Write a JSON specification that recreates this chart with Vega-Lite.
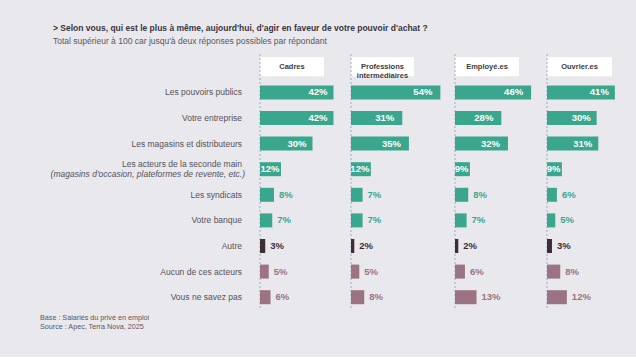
{
  "$schema": "https://vega.github.io/schema/vega-lite/v6.json",
  "background": "#e9e8ed",
  "padding": {"left": 0, "top": 23, "right": 0, "bottom": 27},
  "config": {"view": {"stroke": null}, "font": "Liberation Sans", "axis": {"disable": true}, "legend": {"disable": true}, "concat": {"spacing": 0}},
  "title": {
    "text": "> Selon vous, qui est le plus à même, aujourd'hui, d'agir en faveur de votre pouvoir d'achat ?",
    "subtitle": "Total supérieur à 100 car jusqu'à deux réponses possibles  par répondant",
    "anchor": "start",
    "dx": 53,
    "font": "Liberation Sans",
    "fontSize": 8.5,
    "fontWeight": "bold",
    "color": "#3a3540",
    "subtitleFont": "Liberation Sans",
    "subtitleFontSize": 8.5,
    "subtitleColor": "#5a5660",
    "subtitlePadding": 5,
    "offset": 8
  },
  "datasets": {
    "d": [
      {"grp": "Cadres", "cat": "Les pouvoirs publics", "v": 0.42},
      {"grp": "Cadres", "cat": "Votre entreprise", "v": 0.42},
      {"grp": "Cadres", "cat": "Les magasins et distributeurs", "v": 0.30},
      {"grp": "Cadres", "cat": "Les acteurs de la seconde main", "v": 0.12},
      {"grp": "Cadres", "cat": "Les syndicats", "v": 0.08},
      {"grp": "Cadres", "cat": "Votre banque", "v": 0.07},
      {"grp": "Cadres", "cat": "Autre", "v": 0.03},
      {"grp": "Cadres", "cat": "Aucun de ces acteurs", "v": 0.05},
      {"grp": "Cadres", "cat": "Vous ne savez pas", "v": 0.06},
      {"grp": "Prof", "cat": "Les pouvoirs publics", "v": 0.54},
      {"grp": "Prof", "cat": "Votre entreprise", "v": 0.31},
      {"grp": "Prof", "cat": "Les magasins et distributeurs", "v": 0.35},
      {"grp": "Prof", "cat": "Les acteurs de la seconde main", "v": 0.12},
      {"grp": "Prof", "cat": "Les syndicats", "v": 0.07},
      {"grp": "Prof", "cat": "Votre banque", "v": 0.07},
      {"grp": "Prof", "cat": "Autre", "v": 0.02},
      {"grp": "Prof", "cat": "Aucun de ces acteurs", "v": 0.05},
      {"grp": "Prof", "cat": "Vous ne savez pas", "v": 0.08},
      {"grp": "Employe", "cat": "Les pouvoirs publics", "v": 0.46},
      {"grp": "Employe", "cat": "Votre entreprise", "v": 0.28},
      {"grp": "Employe", "cat": "Les magasins et distributeurs", "v": 0.32},
      {"grp": "Employe", "cat": "Les acteurs de la seconde main", "v": 0.09},
      {"grp": "Employe", "cat": "Les syndicats", "v": 0.08},
      {"grp": "Employe", "cat": "Votre banque", "v": 0.07},
      {"grp": "Employe", "cat": "Autre", "v": 0.02},
      {"grp": "Employe", "cat": "Aucun de ces acteurs", "v": 0.06},
      {"grp": "Employe", "cat": "Vous ne savez pas", "v": 0.13},
      {"grp": "Ouvrier", "cat": "Les pouvoirs publics", "v": 0.41},
      {"grp": "Ouvrier", "cat": "Votre entreprise", "v": 0.30},
      {"grp": "Ouvrier", "cat": "Les magasins et distributeurs", "v": 0.31},
      {"grp": "Ouvrier", "cat": "Les acteurs de la seconde main", "v": 0.09},
      {"grp": "Ouvrier", "cat": "Les syndicats", "v": 0.06},
      {"grp": "Ouvrier", "cat": "Votre banque", "v": 0.05},
      {"grp": "Ouvrier", "cat": "Autre", "v": 0.03},
      {"grp": "Ouvrier", "cat": "Aucun de ces acteurs", "v": 0.08},
      {"grp": "Ouvrier", "cat": "Vous ne savez pas", "v": 0.12}
    ],
    "h": [
      {"grp": "Cadres", "cat": "header", "head": ["Cadres"]},
      {"grp": "Prof", "cat": "header", "head": ["Professions", "intermédiaires"]},
      {"grp": "Employe", "cat": "header", "head": ["Employé.es"]},
      {"grp": "Ouvrier", "cat": "header", "head": ["Ouvrier.es"]}
    ],
    "sub": [
      {"cat": "Les acteurs de la seconde main", "s": "(magasins d'occasion, plateformes de revente, etc.)"}
    ]
  },
  "spacing": 0,
  "resolve": {"scale": {"x": "independent", "y": "independent", "color": "independent"}},
  "hconcat": [
    {
      "width": 249.5,
      "height": 256,
      "title": {
        "text": ["Base : Salariés du privé en emploi", "Source : Apec, Terra Nova, 2025"],
        "orient": "bottom",
        "anchor": "start",
        "dx": 40,
        "offset": 4,
        "font": "Liberation Sans",
        "fontSize": 7.2,
        "fontWeight": "normal",
        "color": "#5a5660",
        "lineHeight": 8.5
      },
      "layer": [
        {
          "data": {"name": "d"},
          "transform": [{"filter": "datum.grp === 'Cadres' && datum.cat !== 'Les acteurs de la seconde main'"}],
          "mark": {"type": "text", "align": "right", "baseline": "middle", "dx": -7.5, "fontSize": 8.5, "color": "#55525a"},
          "encoding": {
            "x": {"value": "width"},
            "y": {"field": "cat", "type": "nominal", "axis": null, "scale": {"domain": ["header", "Les pouvoirs publics", "Votre entreprise", "Les magasins et distributeurs", "Les acteurs de la seconde main", "Les syndicats", "Votre banque", "Autre", "Aucun de ces acteurs", "Vous ne savez pas"], "paddingInner": 0, "paddingOuter": 0}},
            "text": {"field": "cat"}
          }
        },
        {
          "data": {"name": "sub"},
          "mark": {"type": "text", "align": "right", "baseline": "middle", "dx": -7.5, "dy": -4.8, "fontSize": 8.5, "color": "#55525a"},
          "encoding": {
            "x": {"value": "width"},
            "y": {"field": "cat", "type": "nominal", "axis": null, "scale": {"domain": ["header", "Les pouvoirs publics", "Votre entreprise", "Les magasins et distributeurs", "Les acteurs de la seconde main", "Les syndicats", "Votre banque", "Autre", "Aucun de ces acteurs", "Vous ne savez pas"], "paddingInner": 0, "paddingOuter": 0}},
            "text": {"field": "cat"}
          }
        },
        {
          "data": {"name": "sub"},
          "mark": {"type": "text", "align": "right", "baseline": "middle", "dx": -4.5, "dy": 4.8, "fontSize": 8.5, "fontStyle": "italic", "color": "#55525a"},
          "encoding": {
            "x": {"value": "width"},
            "y": {"field": "cat", "type": "nominal", "axis": null, "scale": {"domain": ["header", "Les pouvoirs publics", "Votre entreprise", "Les magasins et distributeurs", "Les acteurs de la seconde main", "Les syndicats", "Votre banque", "Autre", "Aucun de ces acteurs", "Vous ne savez pas"], "paddingInner": 0, "paddingOuter": 0}},
            "text": {"field": "s"}
          }
        }
      ]
    },
    {
      "width": 81,
      "height": 256,
      "data": {"name": "d"},
      "transform": [{"filter": "datum.grp === 'Cadres'"}],
      "layer": [
        {"data": {"name": "h"}, "transform": [{"filter": "datum.grp === 'Cadres'"}],
         "mark": {"type": "rule", "color": "#ffffff", "strokeWidth": 19, "strokeCap": "butt"},
         "encoding": {"x": {"datum": 0, "type": "quantitative", "axis": null, "scale": {"domain": [0, 0.4629]}}, "x2": {"datum": 0.3657},
                      "y": {"field": "cat", "type": "nominal", "axis": null, "scale": {"domain": ["header", "Les pouvoirs publics", "Votre entreprise", "Les magasins et distributeurs", "Les acteurs de la seconde main", "Les syndicats", "Votre banque", "Autre", "Aucun de ces acteurs", "Vous ne savez pas"], "paddingInner": 0, "paddingOuter": 0}}}},
        {"data": {"values": [{}]}, "mark": {"type": "rule", "stroke": "#9aaacb", "strokeDash": [2, 2], "strokeWidth": 1},
         "encoding": {"x": {"datum": 0, "type": "quantitative", "axis": null, "scale": {"domain": [0, 0.4629]}}}},
        {"data": {"name": "h"}, "transform": [{"filter": "datum.grp === 'Cadres'"}],
         "mark": {"type": "text", "align": "center", "baseline": "middle", "fontSize": 7.5, "fontWeight": "bold", "color": "#3d3a40", "lineHeight": 9},
         "encoding": {"x": {"datum": 0.1829, "type": "quantitative", "axis": null, "scale": {"domain": [0, 0.4629]}},
                      "y": {"field": "cat", "type": "nominal", "axis": null, "scale": {"domain": ["header", "Les pouvoirs publics", "Votre entreprise", "Les magasins et distributeurs", "Les acteurs de la seconde main", "Les syndicats", "Votre banque", "Autre", "Aucun de ces acteurs", "Vous ne savez pas"], "paddingInner": 0, "paddingOuter": 0}},
                      "text": {"field": "head"}}},
        {"mark": {"type": "bar", "size": 14},
         "encoding": {
           "x": {"field": "v", "type": "quantitative", "axis": null, "scale": {"domain": [0, 0.4629]}},
           "y": {"field": "cat", "type": "nominal", "axis": null, "scale": {"domain": ["header", "Les pouvoirs publics", "Votre entreprise", "Les magasins et distributeurs", "Les acteurs de la seconde main", "Les syndicats", "Votre banque", "Autre", "Aucun de ces acteurs", "Vous ne savez pas"], "paddingInner": 0, "paddingOuter": 0}},
           "color": {"field": "cat", "type": "nominal", "legend": null, "scale": {"domain": ["Les pouvoirs publics", "Votre entreprise", "Les magasins et distributeurs", "Les acteurs de la seconde main", "Les syndicats", "Votre banque", "Autre", "Aucun de ces acteurs", "Vous ne savez pas"], "range": ["#3ba68e", "#3ba68e", "#3ba68e", "#3ba68e", "#3ba68e", "#3ba68e", "#3f2d38", "#9b7382", "#9b7382"]}}
         }},
        {"transform": [{"filter": "datum.cat === 'Les pouvoirs publics' || datum.cat === 'Votre entreprise' || datum.cat === 'Les magasins et distributeurs'"}],
         "mark": {"type": "text", "align": "right", "baseline": "middle", "dx": -6, "fontSize": 9.5, "fontWeight": "bold", "color": "#ffffff"},
         "encoding": {"x": {"field": "v", "type": "quantitative", "axis": null, "scale": {"domain": [0, 0.4629]}},
                      "y": {"field": "cat", "type": "nominal", "axis": null, "scale": {"domain": ["header", "Les pouvoirs publics", "Votre entreprise", "Les magasins et distributeurs", "Les acteurs de la seconde main", "Les syndicats", "Votre banque", "Autre", "Aucun de ces acteurs", "Vous ne savez pas"], "paddingInner": 0, "paddingOuter": 0}},
                      "text": {"field": "v", "format": ".0%"}}},
        {"transform": [{"filter": "datum.cat === 'Les acteurs de la seconde main'"}],
         "mark": {"type": "text", "align": "right", "baseline": "middle", "dx": -1.5, "fontSize": 9.5, "fontWeight": "bold", "color": "#ffffff"},
         "encoding": {"x": {"field": "v", "type": "quantitative", "axis": null, "scale": {"domain": [0, 0.4629]}},
                      "y": {"field": "cat", "type": "nominal", "axis": null, "scale": {"domain": ["header", "Les pouvoirs publics", "Votre entreprise", "Les magasins et distributeurs", "Les acteurs de la seconde main", "Les syndicats", "Votre banque", "Autre", "Aucun de ces acteurs", "Vous ne savez pas"], "paddingInner": 0, "paddingOuter": 0}},
                      "text": {"field": "v", "format": ".0%"}}},
        {"transform": [{"filter": "datum.cat === 'Les syndicats' || datum.cat === 'Votre banque' || datum.cat === 'Autre' || datum.cat === 'Aucun de ces acteurs' || datum.cat === 'Vous ne savez pas'"}],
         "mark": {"type": "text", "align": "left", "baseline": "middle", "dx": 5, "fontSize": 9.5, "fontWeight": "bold"},
         "encoding": {"x": {"field": "v", "type": "quantitative", "axis": null, "scale": {"domain": [0, 0.4629]}},
                      "y": {"field": "cat", "type": "nominal", "axis": null, "scale": {"domain": ["header", "Les pouvoirs publics", "Votre entreprise", "Les magasins et distributeurs", "Les acteurs de la seconde main", "Les syndicats", "Votre banque", "Autre", "Aucun de ces acteurs", "Vous ne savez pas"], "paddingInner": 0, "paddingOuter": 0}},
                      "text": {"field": "v", "format": ".0%"},
                      "color": {"field": "cat", "type": "nominal", "legend": null, "scale": {"domain": ["Les pouvoirs publics", "Votre entreprise", "Les magasins et distributeurs", "Les acteurs de la seconde main", "Les syndicats", "Votre banque", "Autre", "Aucun de ces acteurs", "Vous ne savez pas"], "range": ["#3ba68e", "#3ba68e", "#3ba68e", "#3ba68e", "#3ba68e", "#3ba68e", "#3f2d38", "#9b7382", "#9b7382"]}}}}
      ]
    },
    {
      "width": 94,
      "height": 256,
      "data": {"name": "d"},
      "transform": [{"filter": "datum.grp === 'Prof'"}],
      "layer": [
        {"data": {"name": "h"}, "transform": [{"filter": "datum.grp === 'Prof'"}],
         "mark": {"type": "rule", "color": "#ffffff", "strokeWidth": 19, "strokeCap": "butt"},
         "encoding": {"x": {"datum": 0, "type": "quantitative", "axis": null, "scale": {"domain": [0, 0.568]}}, "x2": {"datum": 0.3807},
                      "y": {"field": "cat", "type": "nominal", "axis": null, "scale": {"domain": ["header", "Les pouvoirs publics", "Votre entreprise", "Les magasins et distributeurs", "Les acteurs de la seconde main", "Les syndicats", "Votre banque", "Autre", "Aucun de ces acteurs", "Vous ne savez pas"], "paddingInner": 0, "paddingOuter": 0}}}},
        {"data": {"values": [{}]}, "mark": {"type": "rule", "stroke": "#9aaacb", "strokeDash": [2, 2], "strokeWidth": 1},
         "encoding": {"x": {"datum": 0, "type": "quantitative", "axis": null, "scale": {"domain": [0, 0.568]}}}},
        {"data": {"name": "h"}, "transform": [{"filter": "datum.grp === 'Prof'"}],
         "mark": {"type": "text", "align": "center", "baseline": "middle", "fontSize": 7.5, "fontWeight": "bold", "color": "#3d3a40", "lineHeight": 9},
         "encoding": {"x": {"datum": 0.1903, "type": "quantitative", "axis": null, "scale": {"domain": [0, 0.568]}},
                      "y": {"field": "cat", "type": "nominal", "axis": null, "scale": {"domain": ["header", "Les pouvoirs publics", "Votre entreprise", "Les magasins et distributeurs", "Les acteurs de la seconde main", "Les syndicats", "Votre banque", "Autre", "Aucun de ces acteurs", "Vous ne savez pas"], "paddingInner": 0, "paddingOuter": 0}},
                      "text": {"field": "head"}}},
        {"mark": {"type": "bar", "size": 14},
         "encoding": {
           "x": {"field": "v", "type": "quantitative", "axis": null, "scale": {"domain": [0, 0.568]}},
           "y": {"field": "cat", "type": "nominal", "axis": null, "scale": {"domain": ["header", "Les pouvoirs publics", "Votre entreprise", "Les magasins et distributeurs", "Les acteurs de la seconde main", "Les syndicats", "Votre banque", "Autre", "Aucun de ces acteurs", "Vous ne savez pas"], "paddingInner": 0, "paddingOuter": 0}},
           "color": {"field": "cat", "type": "nominal", "legend": null, "scale": {"domain": ["Les pouvoirs publics", "Votre entreprise", "Les magasins et distributeurs", "Les acteurs de la seconde main", "Les syndicats", "Votre banque", "Autre", "Aucun de ces acteurs", "Vous ne savez pas"], "range": ["#3ba68e", "#3ba68e", "#3ba68e", "#3ba68e", "#3ba68e", "#3ba68e", "#3f2d38", "#9b7382", "#9b7382"]}}
         }},
        {"transform": [{"filter": "datum.cat === 'Les pouvoirs publics' || datum.cat === 'Votre entreprise' || datum.cat === 'Les magasins et distributeurs'"}],
         "mark": {"type": "text", "align": "right", "baseline": "middle", "dx": -8, "fontSize": 9.5, "fontWeight": "bold", "color": "#ffffff"},
         "encoding": {"x": {"field": "v", "type": "quantitative", "axis": null, "scale": {"domain": [0, 0.568]}},
                      "y": {"field": "cat", "type": "nominal", "axis": null, "scale": {"domain": ["header", "Les pouvoirs publics", "Votre entreprise", "Les magasins et distributeurs", "Les acteurs de la seconde main", "Les syndicats", "Votre banque", "Autre", "Aucun de ces acteurs", "Vous ne savez pas"], "paddingInner": 0, "paddingOuter": 0}},
                      "text": {"field": "v", "format": ".0%"}}},
        {"transform": [{"filter": "datum.cat === 'Les acteurs de la seconde main'"}],
         "mark": {"type": "text", "align": "right", "baseline": "middle", "dx": -1.5, "fontSize": 9.5, "fontWeight": "bold", "color": "#ffffff"},
         "encoding": {"x": {"field": "v", "type": "quantitative", "axis": null, "scale": {"domain": [0, 0.568]}},
                      "y": {"field": "cat", "type": "nominal", "axis": null, "scale": {"domain": ["header", "Les pouvoirs publics", "Votre entreprise", "Les magasins et distributeurs", "Les acteurs de la seconde main", "Les syndicats", "Votre banque", "Autre", "Aucun de ces acteurs", "Vous ne savez pas"], "paddingInner": 0, "paddingOuter": 0}},
                      "text": {"field": "v", "format": ".0%"}}},
        {"transform": [{"filter": "datum.cat === 'Les syndicats' || datum.cat === 'Votre banque' || datum.cat === 'Autre' || datum.cat === 'Aucun de ces acteurs' || datum.cat === 'Vous ne savez pas'"}],
         "mark": {"type": "text", "align": "left", "baseline": "middle", "dx": 5, "fontSize": 9.5, "fontWeight": "bold"},
         "encoding": {"x": {"field": "v", "type": "quantitative", "axis": null, "scale": {"domain": [0, 0.568]}},
                      "y": {"field": "cat", "type": "nominal", "axis": null, "scale": {"domain": ["header", "Les pouvoirs publics", "Votre entreprise", "Les magasins et distributeurs", "Les acteurs de la seconde main", "Les syndicats", "Votre banque", "Autre", "Aucun de ces acteurs", "Vous ne savez pas"], "paddingInner": 0, "paddingOuter": 0}},
                      "text": {"field": "v", "format": ".0%"},
                      "color": {"field": "cat", "type": "nominal", "legend": null, "scale": {"domain": ["Les pouvoirs publics", "Votre entreprise", "Les magasins et distributeurs", "Les acteurs de la seconde main", "Les syndicats", "Votre banque", "Autre", "Aucun de ces acteurs", "Vous ne savez pas"], "range": ["#3ba68e", "#3ba68e", "#3ba68e", "#3ba68e", "#3ba68e", "#3ba68e", "#3f2d38", "#9b7382", "#9b7382"]}}}}
      ]
    },
    {
      "width": 82,
      "height": 256,
      "data": {"name": "d"},
      "transform": [{"filter": "datum.grp === 'Employe'"}],
      "layer": [
        {"data": {"name": "h"}, "transform": [{"filter": "datum.grp === 'Employe'"}],
         "mark": {"type": "rule", "color": "#ffffff", "strokeWidth": 19, "strokeCap": "butt"},
         "encoding": {"x": {"datum": 0, "type": "quantitative", "axis": null, "scale": {"domain": [0, 0.4955]}}, "x2": {"datum": 0.3867},
                      "y": {"field": "cat", "type": "nominal", "axis": null, "scale": {"domain": ["header", "Les pouvoirs publics", "Votre entreprise", "Les magasins et distributeurs", "Les acteurs de la seconde main", "Les syndicats", "Votre banque", "Autre", "Aucun de ces acteurs", "Vous ne savez pas"], "paddingInner": 0, "paddingOuter": 0}}}},
        {"data": {"values": [{}]}, "mark": {"type": "rule", "stroke": "#9aaacb", "strokeDash": [2, 2], "strokeWidth": 1},
         "encoding": {"x": {"datum": 0, "type": "quantitative", "axis": null, "scale": {"domain": [0, 0.4955]}}}},
        {"data": {"name": "h"}, "transform": [{"filter": "datum.grp === 'Employe'"}],
         "mark": {"type": "text", "align": "center", "baseline": "middle", "fontSize": 7.5, "fontWeight": "bold", "color": "#3d3a40", "lineHeight": 9},
         "encoding": {"x": {"datum": 0.1934, "type": "quantitative", "axis": null, "scale": {"domain": [0, 0.4955]}},
                      "y": {"field": "cat", "type": "nominal", "axis": null, "scale": {"domain": ["header", "Les pouvoirs publics", "Votre entreprise", "Les magasins et distributeurs", "Les acteurs de la seconde main", "Les syndicats", "Votre banque", "Autre", "Aucun de ces acteurs", "Vous ne savez pas"], "paddingInner": 0, "paddingOuter": 0}},
                      "text": {"field": "head"}}},
        {"mark": {"type": "bar", "size": 14},
         "encoding": {
           "x": {"field": "v", "type": "quantitative", "axis": null, "scale": {"domain": [0, 0.4955]}},
           "y": {"field": "cat", "type": "nominal", "axis": null, "scale": {"domain": ["header", "Les pouvoirs publics", "Votre entreprise", "Les magasins et distributeurs", "Les acteurs de la seconde main", "Les syndicats", "Votre banque", "Autre", "Aucun de ces acteurs", "Vous ne savez pas"], "paddingInner": 0, "paddingOuter": 0}},
           "color": {"field": "cat", "type": "nominal", "legend": null, "scale": {"domain": ["Les pouvoirs publics", "Votre entreprise", "Les magasins et distributeurs", "Les acteurs de la seconde main", "Les syndicats", "Votre banque", "Autre", "Aucun de ces acteurs", "Vous ne savez pas"], "range": ["#3ba68e", "#3ba68e", "#3ba68e", "#3ba68e", "#3ba68e", "#3ba68e", "#3f2d38", "#9b7382", "#9b7382"]}}
         }},
        {"transform": [{"filter": "datum.cat === 'Les pouvoirs publics' || datum.cat === 'Votre entreprise' || datum.cat === 'Les magasins et distributeurs'"}],
         "mark": {"type": "text", "align": "right", "baseline": "middle", "dx": -8, "fontSize": 9.5, "fontWeight": "bold", "color": "#ffffff"},
         "encoding": {"x": {"field": "v", "type": "quantitative", "axis": null, "scale": {"domain": [0, 0.4955]}},
                      "y": {"field": "cat", "type": "nominal", "axis": null, "scale": {"domain": ["header", "Les pouvoirs publics", "Votre entreprise", "Les magasins et distributeurs", "Les acteurs de la seconde main", "Les syndicats", "Votre banque", "Autre", "Aucun de ces acteurs", "Vous ne savez pas"], "paddingInner": 0, "paddingOuter": 0}},
                      "text": {"field": "v", "format": ".0%"}}},
        {"transform": [{"filter": "datum.cat === 'Les acteurs de la seconde main'"}],
         "mark": {"type": "text", "align": "right", "baseline": "middle", "dx": -1.5, "fontSize": 9.5, "fontWeight": "bold", "color": "#ffffff"},
         "encoding": {"x": {"field": "v", "type": "quantitative", "axis": null, "scale": {"domain": [0, 0.4955]}},
                      "y": {"field": "cat", "type": "nominal", "axis": null, "scale": {"domain": ["header", "Les pouvoirs publics", "Votre entreprise", "Les magasins et distributeurs", "Les acteurs de la seconde main", "Les syndicats", "Votre banque", "Autre", "Aucun de ces acteurs", "Vous ne savez pas"], "paddingInner": 0, "paddingOuter": 0}},
                      "text": {"field": "v", "format": ".0%"}}},
        {"transform": [{"filter": "datum.cat === 'Les syndicats' || datum.cat === 'Votre banque' || datum.cat === 'Autre' || datum.cat === 'Aucun de ces acteurs' || datum.cat === 'Vous ne savez pas'"}],
         "mark": {"type": "text", "align": "left", "baseline": "middle", "dx": 5, "fontSize": 9.5, "fontWeight": "bold"},
         "encoding": {"x": {"field": "v", "type": "quantitative", "axis": null, "scale": {"domain": [0, 0.4955]}},
                      "y": {"field": "cat", "type": "nominal", "axis": null, "scale": {"domain": ["header", "Les pouvoirs publics", "Votre entreprise", "Les magasins et distributeurs", "Les acteurs de la seconde main", "Les syndicats", "Votre banque", "Autre", "Aucun de ces acteurs", "Vous ne savez pas"], "paddingInner": 0, "paddingOuter": 0}},
                      "text": {"field": "v", "format": ".0%"},
                      "color": {"field": "cat", "type": "nominal", "legend": null, "scale": {"domain": ["Les pouvoirs publics", "Votre entreprise", "Les magasins et distributeurs", "Les acteurs de la seconde main", "Les syndicats", "Votre banque", "Autre", "Aucun de ces acteurs", "Vous ne savez pas"], "range": ["#3ba68e", "#3ba68e", "#3ba68e", "#3ba68e", "#3ba68e", "#3ba68e", "#3f2d38", "#9b7382", "#9b7382"]}}}}
      ]
    },
    {
      "width": 129.5,
      "height": 256,
      "data": {"name": "d"},
      "transform": [{"filter": "datum.grp === 'Ouvrier'"}],
      "layer": [
        {"data": {"name": "h"}, "transform": [{"filter": "datum.grp === 'Ouvrier'"}],
         "mark": {"type": "rule", "color": "#ffffff", "strokeWidth": 19, "strokeCap": "butt"},
         "encoding": {"x": {"datum": 0, "type": "quantitative", "axis": null, "scale": {"domain": [0, 0.7825]}}, "x2": {"datum": 0.3927},
                      "y": {"field": "cat", "type": "nominal", "axis": null, "scale": {"domain": ["header", "Les pouvoirs publics", "Votre entreprise", "Les magasins et distributeurs", "Les acteurs de la seconde main", "Les syndicats", "Votre banque", "Autre", "Aucun de ces acteurs", "Vous ne savez pas"], "paddingInner": 0, "paddingOuter": 0}}}},
        {"data": {"values": [{}]}, "mark": {"type": "rule", "stroke": "#9aaacb", "strokeDash": [2, 2], "strokeWidth": 1},
         "encoding": {"x": {"datum": 0, "type": "quantitative", "axis": null, "scale": {"domain": [0, 0.7825]}}}},
        {"data": {"name": "h"}, "transform": [{"filter": "datum.grp === 'Ouvrier'"}],
         "mark": {"type": "text", "align": "center", "baseline": "middle", "fontSize": 7.5, "fontWeight": "bold", "color": "#3d3a40", "lineHeight": 9},
         "encoding": {"x": {"datum": 0.1963, "type": "quantitative", "axis": null, "scale": {"domain": [0, 0.7825]}},
                      "y": {"field": "cat", "type": "nominal", "axis": null, "scale": {"domain": ["header", "Les pouvoirs publics", "Votre entreprise", "Les magasins et distributeurs", "Les acteurs de la seconde main", "Les syndicats", "Votre banque", "Autre", "Aucun de ces acteurs", "Vous ne savez pas"], "paddingInner": 0, "paddingOuter": 0}},
                      "text": {"field": "head"}}},
        {"mark": {"type": "bar", "size": 14},
         "encoding": {
           "x": {"field": "v", "type": "quantitative", "axis": null, "scale": {"domain": [0, 0.7825]}},
           "y": {"field": "cat", "type": "nominal", "axis": null, "scale": {"domain": ["header", "Les pouvoirs publics", "Votre entreprise", "Les magasins et distributeurs", "Les acteurs de la seconde main", "Les syndicats", "Votre banque", "Autre", "Aucun de ces acteurs", "Vous ne savez pas"], "paddingInner": 0, "paddingOuter": 0}},
           "color": {"field": "cat", "type": "nominal", "legend": null, "scale": {"domain": ["Les pouvoirs publics", "Votre entreprise", "Les magasins et distributeurs", "Les acteurs de la seconde main", "Les syndicats", "Votre banque", "Autre", "Aucun de ces acteurs", "Vous ne savez pas"], "range": ["#3ba68e", "#3ba68e", "#3ba68e", "#3ba68e", "#3ba68e", "#3ba68e", "#3f2d38", "#9b7382", "#9b7382"]}}
         }},
        {"transform": [{"filter": "datum.cat === 'Les pouvoirs publics' || datum.cat === 'Votre entreprise' || datum.cat === 'Les magasins et distributeurs'"}],
         "mark": {"type": "text", "align": "right", "baseline": "middle", "dx": -6, "fontSize": 9.5, "fontWeight": "bold", "color": "#ffffff"},
         "encoding": {"x": {"field": "v", "type": "quantitative", "axis": null, "scale": {"domain": [0, 0.7825]}},
                      "y": {"field": "cat", "type": "nominal", "axis": null, "scale": {"domain": ["header", "Les pouvoirs publics", "Votre entreprise", "Les magasins et distributeurs", "Les acteurs de la seconde main", "Les syndicats", "Votre banque", "Autre", "Aucun de ces acteurs", "Vous ne savez pas"], "paddingInner": 0, "paddingOuter": 0}},
                      "text": {"field": "v", "format": ".0%"}}},
        {"transform": [{"filter": "datum.cat === 'Les acteurs de la seconde main'"}],
         "mark": {"type": "text", "align": "right", "baseline": "middle", "dx": -1.5, "fontSize": 9.5, "fontWeight": "bold", "color": "#ffffff"},
         "encoding": {"x": {"field": "v", "type": "quantitative", "axis": null, "scale": {"domain": [0, 0.7825]}},
                      "y": {"field": "cat", "type": "nominal", "axis": null, "scale": {"domain": ["header", "Les pouvoirs publics", "Votre entreprise", "Les magasins et distributeurs", "Les acteurs de la seconde main", "Les syndicats", "Votre banque", "Autre", "Aucun de ces acteurs", "Vous ne savez pas"], "paddingInner": 0, "paddingOuter": 0}},
                      "text": {"field": "v", "format": ".0%"}}},
        {"transform": [{"filter": "datum.cat === 'Les syndicats' || datum.cat === 'Votre banque' || datum.cat === 'Autre' || datum.cat === 'Aucun de ces acteurs' || datum.cat === 'Vous ne savez pas'"}],
         "mark": {"type": "text", "align": "left", "baseline": "middle", "dx": 5, "fontSize": 9.5, "fontWeight": "bold"},
         "encoding": {"x": {"field": "v", "type": "quantitative", "axis": null, "scale": {"domain": [0, 0.7825]}},
                      "y": {"field": "cat", "type": "nominal", "axis": null, "scale": {"domain": ["header", "Les pouvoirs publics", "Votre entreprise", "Les magasins et distributeurs", "Les acteurs de la seconde main", "Les syndicats", "Votre banque", "Autre", "Aucun de ces acteurs", "Vous ne savez pas"], "paddingInner": 0, "paddingOuter": 0}},
                      "text": {"field": "v", "format": ".0%"},
                      "color": {"field": "cat", "type": "nominal", "legend": null, "scale": {"domain": ["Les pouvoirs publics", "Votre entreprise", "Les magasins et distributeurs", "Les acteurs de la seconde main", "Les syndicats", "Votre banque", "Autre", "Aucun de ces acteurs", "Vous ne savez pas"], "range": ["#3ba68e", "#3ba68e", "#3ba68e", "#3ba68e", "#3ba68e", "#3ba68e", "#3f2d38", "#9b7382", "#9b7382"]}}}}
      ]
    }
  ]
}
